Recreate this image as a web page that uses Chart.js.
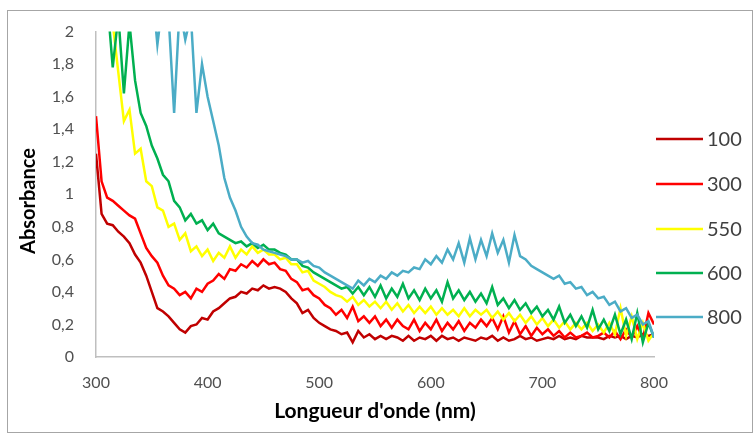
<!DOCTYPE html>
<html>
<head>
<meta charset="utf-8">
<script src="https://cdn.jsdelivr.net/npm/chart.js@4.4.1/dist/chart.umd.min.js"></script>
<style>
  html, body { margin: 0; padding: 0; background: #fff; }
  canvas { display: block; }
</style>
</head>
<body>
<canvas id="c" width="756" height="434"></canvas>
<script>
// wavelengths (nm)
const wavelengths = [
  300,305,310,315,320,325,330,335,340,345,
  350,355,360,365,370,375,380,385,390,395,
  400,405,410,415,420,425,430,435,440,445,
  450,455,460,465,470,475,480,485,490,495,
  500,505,510,515,520,525,530,535,540,545,
  550,555,560,565,570,575,580,585,590,595,
  600,605,610,615,620,625,630,635,640,645,
  650,655,660,665,670,675,680,685,690,695,
  700,705,710,715,720,725,730,735,740,745,
  750,755,760,765,770,775,780,785,790,795,
  800
];

const seriesNames = ['100', '300', '550', '600', '800'];
const seriesColors = ['#C00000', '#FF0000', '#FFFF00', '#00B050', '#4BACC6'];

const abs100 = [
  1.25,0.88,0.82,0.81,0.77,0.74,0.70,0.63,0.58,0.50,
  0.40,0.30,0.28,0.25,0.21,0.17,0.15,0.19,0.20,0.24,
  0.23,0.28,0.30,0.33,0.36,0.37,0.40,0.39,0.42,0.41,
  0.44,0.42,0.43,0.42,0.40,0.36,0.33,0.27,0.29,0.24,
  0.21,0.19,0.17,0.16,0.14,0.15,0.09,0.16,0.12,0.14,
  0.11,0.13,0.11,0.13,0.12,0.10,0.13,0.10,0.12,0.11,
  0.13,0.10,0.13,0.11,0.12,0.10,0.12,0.11,0.10,0.12,
  0.11,0.13,0.10,0.12,0.10,0.11,0.13,0.11,0.12,0.10,
  0.11,0.12,0.11,0.13,0.11,0.12,0.11,0.13,0.12,0.12,
  0.12,0.11,0.13,0.12,0.13,0.11,0.13,0.12,0.14,0.13,
  0.14
];
const abs300 = [
  1.48,1.08,0.98,0.96,0.93,0.90,0.87,0.85,0.76,0.67,
  0.62,0.58,0.50,0.44,0.42,0.38,0.40,0.36,0.42,0.40,
  0.45,0.47,0.51,0.48,0.54,0.53,0.57,0.55,0.59,0.56,
  0.60,0.57,0.58,0.54,0.53,0.48,0.46,0.41,0.42,0.38,
  0.36,0.32,0.30,0.26,0.29,0.24,0.31,0.22,0.25,0.21,
  0.25,0.19,0.23,0.18,0.23,0.19,0.17,0.23,0.16,0.21,
  0.17,0.23,0.16,0.21,0.17,0.22,0.16,0.21,0.18,0.23,
  0.19,0.24,0.17,0.25,0.15,0.22,0.14,0.19,0.13,0.18,
  0.14,0.17,0.13,0.16,0.12,0.15,0.12,0.13,0.15,0.12,
  0.13,0.15,0.12,0.16,0.11,0.17,0.12,0.19,0.11,0.27,
  0.20
];
const abs550 = [
  2.60,2.40,2.20,2.05,1.75,1.45,1.52,1.25,1.28,1.08,
  1.05,0.92,0.90,0.80,0.82,0.72,0.76,0.65,0.68,0.62,
  0.66,0.59,0.64,0.61,0.68,0.61,0.66,0.63,0.68,0.64,
  0.66,0.63,0.63,0.60,0.61,0.57,0.57,0.52,0.53,0.47,
  0.45,0.43,0.40,0.38,0.37,0.34,0.37,0.32,0.35,0.31,
  0.34,0.30,0.34,0.29,0.33,0.28,0.32,0.27,0.31,0.27,
  0.31,0.26,0.30,0.26,0.29,0.25,0.30,0.25,0.29,0.26,
  0.29,0.24,0.28,0.23,0.27,0.22,0.26,0.21,0.25,0.20,
  0.24,0.19,0.23,0.18,0.22,0.17,0.21,0.17,0.21,0.16,
  0.20,0.15,0.21,0.14,0.30,0.13,0.25,0.11,0.21,0.10,
  0.15
];
const abs600 = [
  2.80,2.50,2.20,1.78,2.10,1.62,2.05,1.70,1.50,1.42,
  1.30,1.22,1.12,1.08,0.96,0.92,0.84,0.88,0.82,0.84,
  0.78,0.82,0.76,0.74,0.72,0.70,0.71,0.68,0.70,0.67,
  0.69,0.66,0.66,0.64,0.63,0.60,0.60,0.56,0.55,0.52,
  0.50,0.48,0.46,0.44,0.42,0.43,0.39,0.43,0.38,0.43,
  0.37,0.44,0.36,0.42,0.37,0.45,0.36,0.41,0.35,0.42,
  0.36,0.41,0.34,0.46,0.36,0.41,0.35,0.40,0.34,0.39,
  0.33,0.43,0.32,0.36,0.30,0.35,0.29,0.33,0.27,0.31,
  0.25,0.29,0.23,0.31,0.21,0.26,0.19,0.25,0.18,0.29,
  0.17,0.23,0.16,0.26,0.14,0.23,0.11,0.27,0.09,0.21,
  0.12
];
const abs800 = [
  3.00,3.00,2.90,2.90,2.80,2.80,2.70,2.60,2.50,2.40,
  2.30,1.92,2.20,2.10,1.50,2.15,1.95,2.10,1.50,1.80,
  1.60,1.45,1.30,1.10,0.98,0.90,0.80,0.74,0.70,0.69,
  0.66,0.65,0.64,0.63,0.62,0.60,0.60,0.58,0.59,0.56,
  0.55,0.52,0.50,0.48,0.46,0.44,0.42,0.47,0.44,0.48,
  0.46,0.50,0.48,0.52,0.50,0.53,0.52,0.55,0.54,0.60,
  0.57,0.62,0.58,0.66,0.60,0.70,0.58,0.73,0.60,0.72,
  0.62,0.76,0.64,0.72,0.58,0.75,0.62,0.60,0.56,0.54,
  0.52,0.50,0.48,0.50,0.45,0.46,0.42,0.43,0.38,0.40,
  0.36,0.37,0.32,0.34,0.28,0.30,0.24,0.26,0.20,0.22,
  0.12
];

const yTicks = ['0','0,2','0,4','0,6','0,8','1','1,2','1,4','1,6','1,8','2'];

const allSeries = [abs100, abs300, abs550, abs600, abs800];
const FONT = 'Lato, "Liberation Sans", sans-serif';

// frame, y title and legend drawn like the spreadsheet ones
const frameLegend = {
  id: 'frameLegend',
  beforeDraw(chart){
    const ctx = chart.ctx;
    ctx.save();
    ctx.strokeStyle = '#A6A6A6';
    ctx.lineWidth = 1;
    ctx.strokeRect(7.5, 10.5, 745, 422);
    ctx.restore();
  },
  afterDraw(chart){
    const ctx = chart.ctx;
    ctx.save();
    ctx.translate(29, 201);
    ctx.rotate(-Math.PI / 2);
    ctx.font = 'bold 20px ' + FONT;
    ctx.fillStyle = '#000';
    ctx.textAlign = 'center';
    ctx.textBaseline = 'middle';
    ctx.fillText('Absorbance', 0, 0);
    ctx.restore();

    const ys = [139, 184, 229, 273, 317];
    ctx.save();
    ctx.font = '20px ' + FONT;
    ctx.textBaseline = 'middle';
    chart.data.datasets.forEach((ds, i) => {
      ctx.strokeStyle = ds.borderColor;
      ctx.lineWidth = 2.5;
      ctx.beginPath();
      ctx.moveTo(656, ys[i]);
      ctx.lineTo(703, ys[i]);
      ctx.stroke();
      ctx.fillStyle = '#404040';
      ctx.fillText(ds.label, 707, ys[i] + 1);
    });
    ctx.restore();
  }
};

new Chart(document.getElementById('c'), {
  type: 'line',
  data: {
    datasets: allSeries.map((s, i) => ({
      label: seriesNames[i],
      data: wavelengths.map((w, k) => ({ x: w, y: s[k] })),
      borderColor: seriesColors[i],
      borderWidth: 2.5,
      pointRadius: 0,
      tension: 0,
      order: allSeries.length - i
    }))
  },
  options: {
    responsive: false,
    animation: false,
    devicePixelRatio: 1,
    layout: { padding: { left: 0, top: 27, right: 102, bottom: 0 } },
    plugins: { legend: { display: false }, tooltip: { enabled: false } },
    scales: {
      x: {
        type: 'linear', min: 300, max: 800,
        afterFit(s){ s.height = 77; },
        grid: { display: false, drawTicks: false },
        border: { display: true, color: '#BFBFBF', width: 1.5 },
        ticks: { stepSize: 100, padding: 16, color: '#505050', font: { family: FONT, size: 16 } },
        title: { display: true, text: "Longueur d'onde (nm)", color: '#000', padding: { top: 0, bottom: 10 },
                 font: { family: FONT, size: 21, weight: 'bold' } }
      },
      y: {
        min: 0, max: 2,
        afterFit(s){ s.width = 96; },
        grid: { display: false, drawTicks: false },
        border: { display: true, color: '#BFBFBF', width: 1.5 },
        ticks: { stepSize: 0.2, padding: 22, color: '#505050', font: { family: FONT, size: 16 },
                 callback: (v, i) => yTicks[i] },
        title: { display: false }
      }
    }
  },
  plugins: [frameLegend]
});
</script>
</body>
</html>
